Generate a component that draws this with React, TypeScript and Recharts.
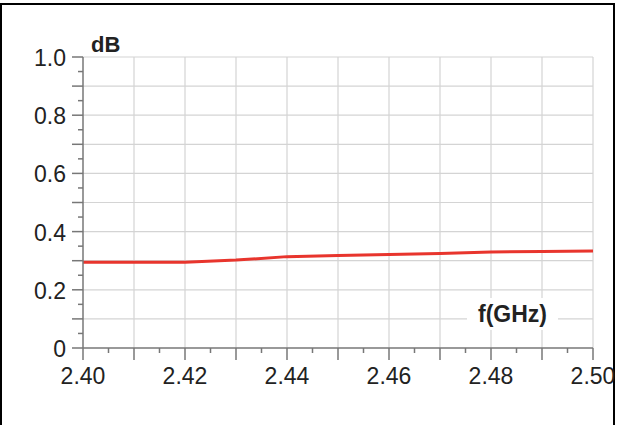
import { LineChart, Line, XAxis, YAxis, ReferenceLine } from 'recharts'

const freqs = [2.4, 2.41, 2.42, 2.43, 2.44, 2.45, 2.46, 2.47, 2.48, 2.49, 2.5]
const lossDb = [0.295, 0.295, 0.295, 0.302, 0.314, 0.318, 0.321, 0.325, 0.33, 0.332, 0.333]

// tick positions: minor every 0.005 GHz / 0.05 dB, labelled every 0.02 / 0.2
const xTicks = [
  2.4, 2.405, 2.41, 2.415, 2.42, 2.425, 2.43, 2.435, 2.44, 2.445, 2.45,
  2.455, 2.46, 2.465, 2.47, 2.475, 2.48, 2.485, 2.49, 2.495, 2.5,
]
const yTicks = [
  0, 0.05, 0.1, 0.15, 0.2, 0.25, 0.3, 0.35, 0.4, 0.45, 0.5,
  0.55, 0.6, 0.65, 0.7, 0.75, 0.8, 0.85, 0.9, 0.95, 1.0,
]
const xGrid = [2.41, 2.42, 2.43, 2.44, 2.45, 2.46, 2.47, 2.48, 2.49, 2.5]
const yGrid = [0.1, 0.2, 0.3, 0.4, 0.5, 0.6, 0.7, 0.8, 0.9, 1.0]

const data = freqs.map((f, i) => ({ f, loss: lossDb[i] }))

const FONT = '"Liberation Sans", Arial, sans-serif'
const AXIS = '#777'
const GRID = '#d4d4d4'
const TEXT = '#222'

function XTick(props: any) {
  const { x, y, payload } = props
  const v = payload.value as number
  const k = Math.round(v * 1000)
  const major = k % 10 === 0
  const label = Math.round(v * 100) % 2 === 0 && major
  return (
    <g>
      <line x1={x} x2={x} y1={y} y2={y + (major ? 12 : 5)} stroke={AXIS} strokeWidth={1.5} />
      {label && (
        <text x={x} y={y + 36} textAnchor="middle" fill={TEXT} style={{ fontSize: 23, fontFamily: FONT }}>
          {v.toFixed(2)}
        </text>
      )}
    </g>
  )
}

function YTick(props: any) {
  const { x, y, payload } = props
  const v = payload.value as number
  const k = Math.round(v * 100)
  const major = k % 10 === 0
  const label = major && Math.round(v * 10) % 2 === 0
  return (
    <g>
      <line x1={x - (major ? 11 : 5)} x2={x} y1={y} y2={y} stroke={AXIS} strokeWidth={1.5} />
      {label && (
        <text x={x - 17} y={y + 9} textAnchor="end" fill={TEXT} style={{ fontSize: 23, fontFamily: FONT }}>
          {v === 0 ? '0' : v.toFixed(1)}
        </text>
      )}
    </g>
  )
}

export default function App() {
  return (
    <div style={{ position: 'absolute', left: 0, top: 0, width: 619, height: 425, background: '#fff', overflow: 'hidden' }}>
      <div
        style={{
          position: 'absolute',
          left: 0,
          top: 3,
          width: 615,
          height: 440,
          border: '2px solid #000',
          boxSizing: 'border-box',
        }}
      />
      <LineChart width={619} height={425} data={data} margin={{ top: 57, right: 26, bottom: 0, left: 0 }}>
        {xGrid.map((g) => (
          <ReferenceLine key={'x' + g} x={g} stroke={GRID} strokeWidth={1.2} ifOverflow="visible" />
        ))}
        {yGrid.map((g) => (
          <ReferenceLine key={'y' + g} y={g} stroke={GRID} strokeWidth={1.2} ifOverflow="visible" />
        ))}
        <XAxis
          dataKey="f"
          type="number"
          domain={[2.4, 2.5]}
          ticks={xTicks}
          interval={0}
          height={77}
          tickSize={0}
          tickMargin={0}
          tickLine={false}
          stroke={AXIS}
          strokeWidth={1.5}
          tick={<XTick />}
        />
        <YAxis
          type="number"
          domain={[0, 1]}
          ticks={yTicks}
          interval={0}
          width={83}
          tickSize={0}
          tickMargin={0}
          tickLine={false}
          stroke={AXIS}
          strokeWidth={1.5}
          tick={<YTick />}
        />
        <Line
          type="linear"
          dataKey="loss"
          stroke="#e8352d"
          strokeWidth={3}
          dot={false}
          isAnimationActive={false}
        />
      </LineChart>
      <div
        style={{
          position: 'absolute',
          left: 91,
          top: 33,
          fontFamily: FONT,
          fontWeight: 'bold',
          fontSize: 22,
          color: TEXT,
          lineHeight: '24px',
        }}
      >
        dB
      </div>
      <div
        style={{
          position: 'absolute',
          left: 467,
          top: 298,
          width: 91,
          height: 32,
          background: '#fff',
          fontFamily: FONT,
          fontWeight: 'bold',
          fontSize: 23,
          color: TEXT,
          lineHeight: '32px',
          textAlign: 'center',
        }}
      >
        f(GHz)
      </div>
    </div>
  )
}
